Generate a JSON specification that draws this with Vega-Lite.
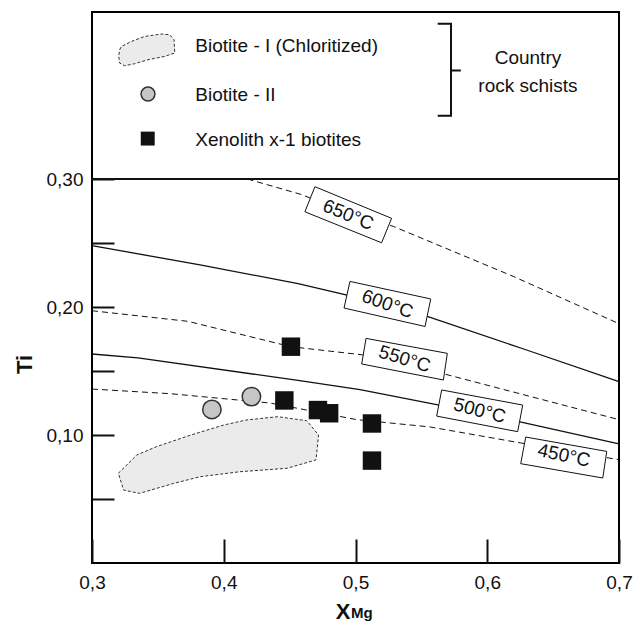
{
  "$schema": "https://vega.github.io/schema/vega-lite/v6.json",
  "width": 527,
  "height": 551,
  "autosize": {"type": "none"},
  "padding": {"left": 92, "top": 12, "right": 22, "bottom": 61},
  "config": {
    "view": {"stroke": "black", "strokeWidth": 2},
    "font": "Liberation Sans",
    "text": {"font": "Liberation Sans", "color": "#111"}
  },
  "datasets": {
    "iso": [
      {"t": "650°C", "i": 1, "xmg": 0.418, "ti": 0.300},
      {"t": "650°C", "i": 2, "xmg": 0.4586, "ti": 0.2880},
      {"t": "650°C", "i": 3, "xmg": 0.4655, "ti": 0.2852},
      {"t": "650°C", "i": 4, "xmg": 0.5287, "ti": 0.2630},
      {"t": "650°C", "i": 5, "xmg": 0.6198, "ti": 0.2239},
      {"t": "650°C", "i": 6, "xmg": 0.700, "ti": 0.1870},
      {"t": "600°C", "i": 1, "xmg": 0.300, "ti": 0.2479},
      {"t": "600°C", "i": 2, "xmg": 0.3820, "ti": 0.2330},
      {"t": "600°C", "i": 3, "xmg": 0.4564, "ti": 0.2182},
      {"t": "600°C", "i": 4, "xmg": 0.4920, "ti": 0.2096},
      {"t": "600°C", "i": 5, "xmg": 0.5550, "ti": 0.1924},
      {"t": "600°C", "i": 6, "xmg": 0.6271, "ti": 0.1674},
      {"t": "600°C", "i": 7, "xmg": 0.700, "ti": 0.1417},
      {"t": "550°C", "i": 1, "xmg": 0.300, "ti": 0.1971},
      {"t": "550°C", "i": 2, "xmg": 0.3729, "ti": 0.1888},
      {"t": "550°C", "i": 3, "xmg": 0.4510, "ti": 0.1690},
      {"t": "550°C", "i": 4, "xmg": 0.5047, "ti": 0.1627},
      {"t": "550°C", "i": 5, "xmg": 0.5666, "ti": 0.1479},
      {"t": "550°C", "i": 6, "xmg": 0.700, "ti": 0.1120},
      {"t": "500°C", "i": 1, "xmg": 0.300, "ti": 0.1633},
      {"t": "500°C", "i": 2, "xmg": 0.3349, "ti": 0.1602},
      {"t": "500°C", "i": 3, "xmg": 0.4564, "ti": 0.1427},
      {"t": "500°C", "i": 4, "xmg": 0.5034, "ti": 0.1354},
      {"t": "500°C", "i": 5, "xmg": 0.5616, "ti": 0.1237},
      {"t": "500°C", "i": 6, "xmg": 0.6249, "ti": 0.1102},
      {"t": "500°C", "i": 7, "xmg": 0.700, "ti": 0.0930},
      {"t": "450°C", "i": 1, "xmg": 0.300, "ti": 0.1359},
      {"t": "450°C", "i": 2, "xmg": 0.3592, "ti": 0.1323},
      {"t": "450°C", "i": 3, "xmg": 0.4351, "ti": 0.1250},
      {"t": "450°C", "i": 4, "xmg": 0.5009, "ti": 0.1120},
      {"t": "450°C", "i": 5, "xmg": 0.5565, "ti": 0.1063},
      {"t": "450°C", "i": 6, "xmg": 0.6254, "ti": 0.0938},
      {"t": "450°C", "i": 7, "xmg": 0.700, "ti": 0.0807}
    ],
    "boxes": [
      {"t": "650°C", "i": 1, "xmg": 0.4692, "ti": 0.2940},
      {"t": "650°C", "i": 2, "xmg": 0.5274, "ti": 0.2693},
      {"t": "650°C", "i": 3, "xmg": 0.5198, "ti": 0.2502},
      {"t": "650°C", "i": 4, "xmg": 0.4616, "ti": 0.2744},
      {"t": "650°C", "i": 5, "xmg": 0.4692, "ti": 0.2940},
      {"t": "600°C", "i": 1, "xmg": 0.4958, "ti": 0.2200},
      {"t": "600°C", "i": 2, "xmg": 0.5571, "ti": 0.2063},
      {"t": "600°C", "i": 3, "xmg": 0.5528, "ti": 0.1848},
      {"t": "600°C", "i": 4, "xmg": 0.4913, "ti": 0.1992},
      {"t": "600°C", "i": 5, "xmg": 0.4958, "ti": 0.2200},
      {"t": "550°C", "i": 1, "xmg": 0.5080, "ti": 0.1755},
      {"t": "550°C", "i": 2, "xmg": 0.5697, "ti": 0.1638},
      {"t": "550°C", "i": 3, "xmg": 0.5667, "ti": 0.1430},
      {"t": "550°C", "i": 4, "xmg": 0.5047, "ti": 0.1555},
      {"t": "550°C", "i": 5, "xmg": 0.5080, "ti": 0.1755},
      {"t": "500°C", "i": 1, "xmg": 0.5654, "ti": 0.1352},
      {"t": "500°C", "i": 2, "xmg": 0.6269, "ti": 0.1234},
      {"t": "500°C", "i": 3, "xmg": 0.6231, "ti": 0.1026},
      {"t": "500°C", "i": 4, "xmg": 0.5616, "ti": 0.1148},
      {"t": "500°C", "i": 5, "xmg": 0.5654, "ti": 0.1352},
      {"t": "450°C", "i": 1, "xmg": 0.6292, "ti": 0.0984},
      {"t": "450°C", "i": 2, "xmg": 0.6907, "ti": 0.0872},
      {"t": "450°C", "i": 3, "xmg": 0.6877, "ti": 0.0664},
      {"t": "450°C", "i": 4, "xmg": 0.6254, "ti": 0.0776},
      {"t": "450°C", "i": 5, "xmg": 0.6292, "ti": 0.0984}
    ],
    "isoLabels": [
      {"t": "650°C", "xmg": 0.4945, "ti": 0.2720},
      {"t": "600°C", "xmg": 0.5242, "ti": 0.2023},
      {"t": "550°C", "xmg": 0.5373, "ti": 0.1594},
      {"t": "500°C", "xmg": 0.5943, "ti": 0.1190},
      {"t": "450°C", "xmg": 0.6582, "ti": 0.0840}
    ],
    "fields": [
      {"f": "sample", "i": 1, "xmg": 0.320, "ti": 0.0701},
      {"f": "sample", "i": 2, "xmg": 0.334, "ti": 0.0844},
      {"f": "sample", "i": 3, "xmg": 0.349, "ti": 0.0909},
      {"f": "sample", "i": 4, "xmg": 0.375, "ti": 0.1000},
      {"f": "sample", "i": 5, "xmg": 0.400, "ti": 0.1078},
      {"f": "sample", "i": 6, "xmg": 0.417, "ti": 0.1117},
      {"f": "sample", "i": 7, "xmg": 0.441, "ti": 0.1143},
      {"f": "sample", "i": 8, "xmg": 0.463, "ti": 0.1112},
      {"f": "sample", "i": 9, "xmg": 0.472, "ti": 0.1000},
      {"f": "sample", "i": 10, "xmg": 0.470, "ti": 0.0805},
      {"f": "sample", "i": 11, "xmg": 0.448, "ti": 0.0740},
      {"f": "sample", "i": 12, "xmg": 0.412, "ti": 0.0713},
      {"f": "sample", "i": 13, "xmg": 0.382, "ti": 0.0674},
      {"f": "sample", "i": 14, "xmg": 0.362, "ti": 0.0622},
      {"f": "sample", "i": 15, "xmg": 0.336, "ti": 0.0544},
      {"f": "sample", "i": 16, "xmg": 0.324, "ti": 0.0570},
      {"f": "sample", "i": 17, "xmg": 0.320, "ti": 0.0701},
      {"f": "key", "i": 1, "xmg": 0.3210, "ti": 0.4010},
      {"f": "key", "i": 2, "xmg": 0.3223, "ti": 0.4036},
      {"f": "key", "i": 3, "xmg": 0.3299, "ti": 0.4075},
      {"f": "key", "i": 4, "xmg": 0.3400, "ti": 0.4114},
      {"f": "key", "i": 5, "xmg": 0.3526, "ti": 0.4133},
      {"f": "key", "i": 6, "xmg": 0.3590, "ti": 0.4127},
      {"f": "key", "i": 7, "xmg": 0.3623, "ti": 0.4088},
      {"f": "key", "i": 8, "xmg": 0.3628, "ti": 0.3984},
      {"f": "key", "i": 9, "xmg": 0.3552, "ti": 0.3958},
      {"f": "key", "i": 10, "xmg": 0.3425, "ti": 0.3932},
      {"f": "key", "i": 11, "xmg": 0.3324, "ti": 0.3901},
      {"f": "key", "i": 12, "xmg": 0.3248, "ti": 0.3885},
      {"f": "key", "i": 13, "xmg": 0.3210, "ti": 0.3906},
      {"f": "key", "i": 14, "xmg": 0.3203, "ti": 0.3958},
      {"f": "key", "i": 15, "xmg": 0.3210, "ti": 0.4010}
    ],
    "samples": [
      {"group": "Biotite - II", "role": "sample", "xmg": 0.391, "ti": 0.120},
      {"group": "Biotite - II", "role": "sample", "xmg": 0.421, "ti": 0.130},
      {"group": "Xenolith x-1 biotites", "role": "sample", "xmg": 0.451, "ti": 0.169},
      {"group": "Xenolith x-1 biotites", "role": "sample", "xmg": 0.446, "ti": 0.127},
      {"group": "Xenolith x-1 biotites", "role": "sample", "xmg": 0.4715, "ti": 0.1195},
      {"group": "Xenolith x-1 biotites", "role": "sample", "xmg": 0.480, "ti": 0.117},
      {"group": "Xenolith x-1 biotites", "role": "sample", "xmg": 0.5125, "ti": 0.109},
      {"group": "Xenolith x-1 biotites", "role": "sample", "xmg": 0.5125, "ti": 0.080},
      {"group": "Biotite - II", "role": "key", "xmg": 0.3425, "ti": 0.3664},
      {"group": "Xenolith x-1 biotites", "role": "key", "xmg": 0.3423, "ti": 0.3316}
    ],
    "keyText": [
      {"label": "Biotite - I (Chloritized)", "xmg": 0.3784, "ti": 0.4037},
      {"label": "Biotite - II", "xmg": 0.3784, "ti": 0.3659},
      {"label": "Xenolith x-1 biotites", "xmg": 0.3784, "ti": 0.3307}
    ],
    "groupText": [
      {"label": "Country", "xmg": 0.6309, "ti": 0.3945},
      {"label": "rock schists", "xmg": 0.6309, "ti": 0.3729}
    ],
    "bracket": [
      {"seg": "b", "i": 1, "xmg": 0.5624, "ti": 0.4213},
      {"seg": "b", "i": 2, "xmg": 0.5725, "ti": 0.4213},
      {"seg": "b", "i": 3, "xmg": 0.5725, "ti": 0.3495},
      {"seg": "b", "i": 4, "xmg": 0.5624, "ti": 0.3495},
      {"seg": "m", "i": 1, "xmg": 0.5725, "ti": 0.3848},
      {"seg": "m", "i": 2, "xmg": 0.5799, "ti": 0.3848}
    ]
  },
  "encoding": {
    "x": {
      "field": "xmg", "type": "quantitative",
      "scale": {"domain": [0.3, 0.7], "nice": false, "zero": false},
      "axis": {
        "title": null, "values": [0.3, 0.4, 0.5, 0.6, 0.7],
        "labelExpr": "replace(format(datum.value, '.1f'), '.', ',')",
        "domain": false, "grid": false, "tickSize": -24, "tickWidth": 2, "tickColor": "#111",
        "labelFontSize": 19, "labelColor": "#111", "labelPadding": 34, "labelFlush": false, "labelFont": "Liberation Sans"
      }
    },
    "y": {
      "field": "ti", "type": "quantitative",
      "scale": {"domain": [0, 0.4305], "nice": false, "zero": false},
      "axis": {
        "title": "Ti", "titleFontSize": 22, "titleFontWeight": "bold", "titleColor": "#111", "titleFont": "Liberation Sans",
        "titleX": -68, "titleY": 352, "titleAngle": 270, "titleAlign": "center", "titleBaseline": "middle",
        "values": [0.05, 0.1, 0.15, 0.2, 0.25, 0.3],
        "labelExpr": "(round(datum.value * 100) % 10 == 0) ? replace(format(datum.value, '.2f'), '.', ',') : ''",
        "domain": false, "grid": false, "tickSize": -22, "tickWidth": 2, "tickColor": "#111",
        "labelFontSize": 19, "labelColor": "#111", "labelPadding": 31, "labelFont": "Liberation Sans"
      }
    }
  },
  "layer": [
    {
      "data": {"name": "fields"},
      "mark": {"type": "line", "fill": "#ebebeb", "stroke": "#333", "strokeWidth": 1, "strokeDash": [3, 2], "interpolate": "linear"},
      "encoding": {"detail": {"field": "f"}, "order": {"field": "i", "type": "quantitative"}}
    },
    {
      "data": {"name": "iso"},
      "transform": [{"filter": {"field": "t", "oneOf": ["600°C", "500°C"]}}],
      "mark": {"type": "line", "stroke": "#111", "strokeWidth": 1.3},
      "encoding": {"detail": {"field": "t"}, "order": {"field": "i", "type": "quantitative"}}
    },
    {
      "data": {"name": "iso"},
      "transform": [{"filter": {"field": "t", "oneOf": ["650°C", "550°C", "450°C"]}}],
      "mark": {"type": "line", "stroke": "#111", "strokeWidth": 1, "strokeDash": [6, 4]},
      "encoding": {"detail": {"field": "t"}, "order": {"field": "i", "type": "quantitative"}}
    },
    {
      "data": {"name": "boxes"},
      "mark": {"type": "line", "fill": "white", "stroke": "#111", "strokeWidth": 1},
      "encoding": {"detail": {"field": "t"}, "order": {"field": "i", "type": "quantitative"}}
    },
    {
      "data": {"name": "isoLabels"},
      "mark": {"type": "text", "fontSize": 19, "align": "center", "baseline": "middle", "color": "#111"},
      "encoding": {
        "text": {"field": "t"},
        "angle": {"field": "t", "type": "nominal", "legend": null,
          "scale": {"domain": ["650°C", "600°C", "550°C", "500°C", "450°C"], "range": [22, 12, 10.5, 10.5, 10]}}
      }
    },
    {
      "data": {"name": "samples"},
      "transform": [{"filter": "datum.group == 'Biotite - II'"}],
      "mark": {"type": "point", "shape": "circle", "filled": true, "fill": "#c6c6c6", "fillOpacity": 1, "stroke": "#333", "strokeWidth": 1.5, "opacity": 1},
      "encoding": {
        "size": {"field": "role", "type": "nominal", "legend": null, "scale": {"domain": ["sample", "key"], "range": [340, 194]}}
      }
    },
    {
      "data": {"name": "samples"},
      "transform": [{"filter": "datum.group == 'Xenolith x-1 biotites'"}],
      "mark": {"type": "point", "shape": "square", "filled": true, "fill": "#111", "opacity": 1, "strokeWidth": 0},
      "encoding": {
        "size": {"field": "role", "type": "nominal", "legend": null, "scale": {"domain": ["sample", "key"], "range": [216, 161]}}
      }
    },
    {
      "data": {"name": "keyText"},
      "mark": {"type": "text", "fontSize": 19, "align": "left", "baseline": "middle", "color": "#111"},
      "encoding": {"text": {"field": "label"}}
    },
    {
      "data": {"name": "groupText"},
      "mark": {"type": "text", "fontSize": 19, "align": "center", "baseline": "middle", "color": "#111"},
      "encoding": {"text": {"field": "label"}}
    },
    {
      "data": {"name": "bracket"},
      "mark": {"type": "line", "stroke": "#111", "strokeWidth": 2},
      "encoding": {"detail": {"field": "seg"}, "order": {"field": "i", "type": "quantitative"}}
    },
    {
      "data": {"values": [{"ti": 0.3}]},
      "mark": {"type": "rule", "stroke": "#111", "strokeWidth": 2},
      "encoding": {"x": null, "y": {"field": "ti", "type": "quantitative"}}
    },
    {
      "data": {"values": [{"xmg": 0.5, "ti": 0, "label": "X"}]},
      "mark": {"type": "text", "fontSize": 22, "fontWeight": "bold", "align": "right", "baseline": "alphabetic", "dx": -5, "dy": 56, "color": "#111"},
      "encoding": {"text": {"field": "label"}}
    },
    {
      "data": {"values": [{"xmg": 0.5, "ti": 0, "label": "Mg"}]},
      "mark": {"type": "text", "fontSize": 15, "fontWeight": "bold", "align": "left", "baseline": "alphabetic", "dx": -4.5, "dy": 55, "color": "#111"},
      "encoding": {"text": {"field": "label"}}
    }
  ]
}
